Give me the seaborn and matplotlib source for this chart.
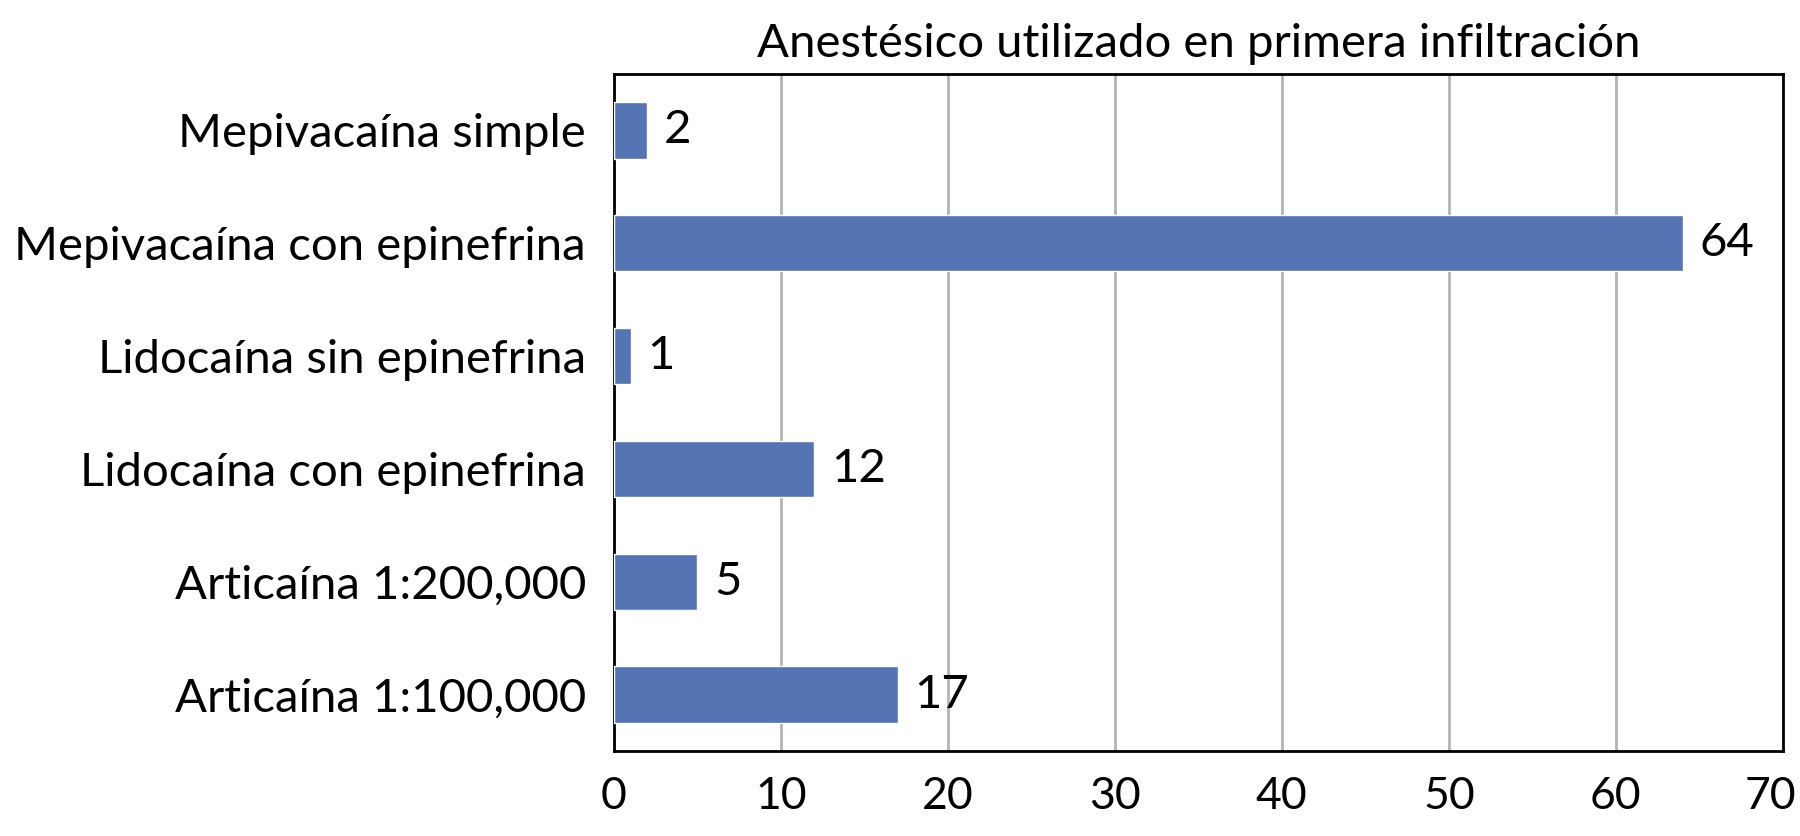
import matplotlib.pyplot as plt
import matplotlib.transforms as mtransforms
import seaborn as sns
import pandas as pd

categories = [
    "Mepivacaína simple",
    "Mepivacaína con epinefrina",
    "Lidocaína sin epinefrina",
    "Lidocaína con epinefrina",
    "Articaína 1:200,000",
    "Articaína 1:100,000",
]
counts = [2, 64, 1, 12, 5, 17]
x_ticks = [0, 10, 20, 30, 40, 50, 60, 70]

df = pd.DataFrame({"anestesico": categories, "n": counts})

sns.set_style("white", {"text.color": "black", "xtick.color": "black",
                        "ytick.color": "black", "axes.labelcolor": "black"})
plt.rcParams["font.family"] = ["Lato", "DejaVu Sans"]

fig = plt.figure(figsize=(18, 8.36), dpi=100)
ax = fig.add_axes([0.341, 0.1017, 0.6495, 0.8098])

sns.barplot(data=df, x="n", y="anestesico", orient="h", color="#5574B4",
            saturation=1, width=0.5, ax=ax, zorder=3)

ax.set_xlim(0, 70)
ax.set_xticks(x_ticks)
ax.xaxis.grid(True, color="#B3B3B3", linewidth=2, zorder=0)
ax.set_axisbelow(True)
for s in ax.spines.values():
    s.set_color("black")
    s.set_linewidth(2)

ax.bar_label(ax.containers[0], padding=12, fontsize=34, color="black")
ax.tick_params(axis="x", length=0, labelsize=32, pad=18, labelcolor="black")
ax.tick_params(axis="y", length=0, labelsize=34, pad=20, labelcolor="black")
ax.set_xlabel("")
ax.set_ylabel("")
ax.set_title("Anestésico utilizado en primera infiltración", fontsize=34, pad=12,
             color="black")

# last tick label sits slightly inside the figure edge
last = ax.get_xticklabels()[-1]
last.set_transform(last.get_transform() +
                   mtransforms.ScaledTranslation(-12 / 100, 0, fig.dpi_scale_trans))

fig.savefig("out.png", dpi=100)
